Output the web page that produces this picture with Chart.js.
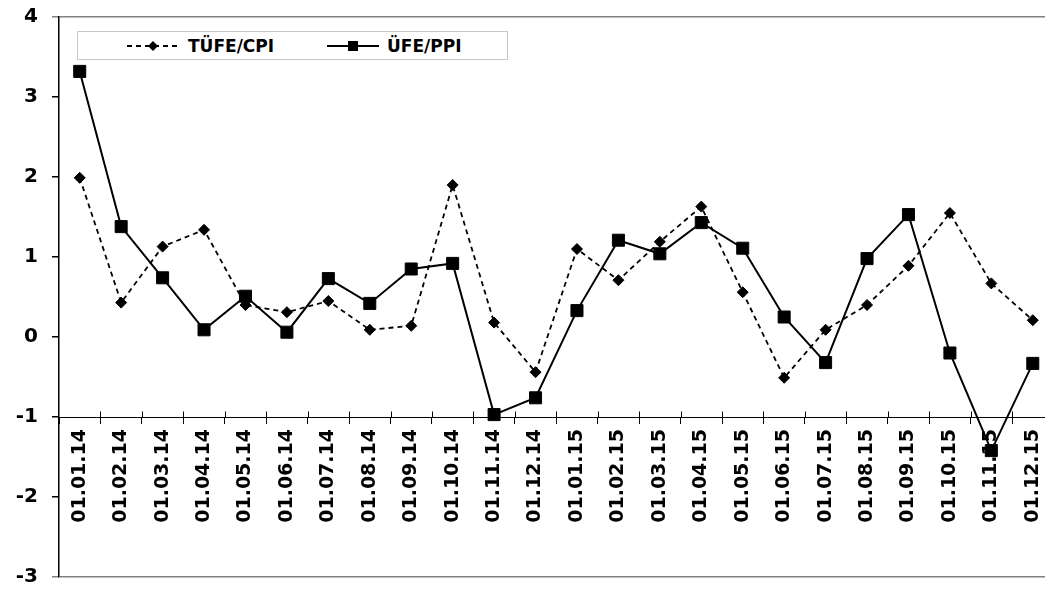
<!DOCTYPE html>
<html>
<head>
<meta charset="utf-8">
<script src="https://cdn.jsdelivr.net/npm/chart.js@4.4.1/dist/chart.umd.min.js"></script>
<style>
  html, body { margin: 0; padding: 0; background: #fff; overflow: hidden; }
  #wrap { position: relative; width: 1063px; height: 592px; }
  #myChart { display: block; }
  #legend {
    position: absolute; left: 77px; top: 31px; width: 429px; height: 27px;
    border: 1px solid #c8c8c8; background: #fff;
    font: bold 17px "DejaVu Sans", sans-serif; color: #000;
  }
  #legend .item { position: absolute; top: 3px; height: 22px; line-height: 22px; white-space: nowrap; }
  #legend svg { vertical-align: middle; margin-right: 6px; margin-top: -3px; }
</style>
</head>
<body>
<div id="wrap">
  <canvas id="myChart" width="1063" height="592"></canvas>
  <div id="legend">
    <span class="item" style="left:48px">
      <svg width="56" height="12"><line x1="1" y1="6" x2="55" y2="6" stroke="#000" stroke-width="2" stroke-dasharray="5,4"/><polygon points="27,1 32,6 27,11 22,6" fill="#000"/></svg>TÜFE/CPI
    </span>
    <span class="item" style="left:249px">
      <svg width="54" height="12"><line x1="0" y1="6" x2="52" y2="6" stroke="#000" stroke-width="2"/><rect x="21" y="1" width="10" height="10" fill="#000"/></svg>ÜFE/PPI
    </span>
  </div>
</div>
<script>
var labels = ["01.01.14", "01.02.14", "01.03.14", "01.04.14", "01.05.14", "01.06.14",
              "01.07.14", "01.08.14", "01.09.14", "01.10.14", "01.11.14", "01.12.14",
              "01.01.15", "01.02.15", "01.03.15", "01.04.15", "01.05.15", "01.06.15",
              "01.07.15", "01.08.15", "01.09.15", "01.10.15", "01.11.15", "01.12.15"];
var cpi = [1.99, 0.43, 1.13, 1.34, 0.40, 0.31, 0.45, 0.09, 0.14, 1.90, 0.18, -0.44,
           1.10, 0.71, 1.19, 1.63, 0.56, -0.51, 0.09, 0.40, 0.89, 1.55, 0.67, 0.21];
var ppi = [3.32, 1.38, 0.74, 0.09, 0.51, 0.06, 0.73, 0.42, 0.85, 0.92, -0.97, -0.76,
           0.33, 1.21, 1.04, 1.43, 1.11, 0.25, -0.32, 0.98, 1.53, -0.20, -1.42, -0.33];

// small marks above the x axis line, at the category boundaries
var tickUp = {
  id: "tickUp",
  afterDraw: function (chart) {
    var x = chart.scales.x, y = chart.scales.y;
    var y0 = Math.round(y.getPixelForValue(-1)) + 0.5;
    var ctx = chart.ctx;
    ctx.save();
    ctx.strokeStyle = "#000";
    ctx.lineWidth = 1;
    for (var i = 1; i < labels.length; i++) {
      var px = Math.round(x.getPixelForValue(i - 0.5)) + 0.5;
      ctx.beginPath();
      ctx.moveTo(px, y0 - 6);
      ctx.lineTo(px, y0);
      ctx.stroke();
    }
    ctx.restore();
  }
};

new Chart("myChart", {
  type: "line",
  data: {
    labels: labels,
    datasets: [
      {
        label: "TÜFE/CPI",
        data: cpi,
        borderColor: "#000",
        backgroundColor: "#000",
        borderWidth: 1.8,
        borderDash: [5, 4],
        pointStyle: "rectRot",
        pointRadius: 5.5,
        pointBorderWidth: 1,
        tension: 0
      },
      {
        label: "ÜFE/PPI",
        data: ppi,
        borderColor: "#000",
        backgroundColor: "#000",
        borderWidth: 2,
        pointStyle: "rect",
        pointRadius: 8.5,
        pointBorderWidth: 1,
        tension: 0
      }
    ]
  },
  plugins: [tickUp],
  options: {
    responsive: false,
    animation: false,
    layout: { padding: { top: 17, bottom: 15, left: 0, right: 0 } },
    plugins: {
      legend: { display: false },
      tooltip: { enabled: false }
    },
    scales: {
      x: {
        type: "category",
        position: { y: -1 },
        offset: true,
        afterFit: function (scale) { scale.paddingLeft = 0; scale.paddingRight = 0; },
        grid: {
          offset: true,
          drawOnChartArea: false,
          tickLength: 6,
          tickColor: "#000"
        },
        border: { color: "#000", width: 1 },
        ticks: {
          autoSkip: false,
          minRotation: 90,
          maxRotation: 90,
          padding: 6,
          color: "#000",
          font: { family: "DejaVu Sans", size: 19, weight: "bold" }
        }
      },
      y: {
        min: -3,
        max: 4,
        afterFit: function (scale) {
          scale.width = 59;
          scale.paddingTop = 0;
          scale.paddingBottom = 0;
        },
        grid: {
          tickLength: 7,
          color: function (c) {
            return (c.tick && (c.tick.value === 4 || c.tick.value === -3)) ? "#808080" : "rgba(0,0,0,0)";
          },
          tickColor: function (c) {
            return (c.tick && (c.tick.value === 4 || c.tick.value === -3)) ? "#808080" : "#000";
          },
          lineWidth: 1.5
        },
        border: { color: "#000", width: 1.5 },
        ticks: {
          stepSize: 1,
          padding: 14,
          color: "#000",
          font: { family: "DejaVu Sans", size: 20, weight: "bold" }
        }
      }
    }
  }
});
</script>
</body>
</html>
